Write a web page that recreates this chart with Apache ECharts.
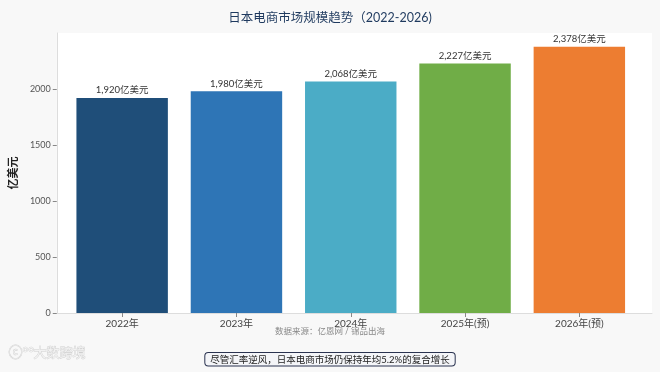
<!DOCTYPE html>
<html>
<head>
<meta charset="utf-8">
<script src="https://cdn.jsdelivr.net/npm/echarts@6/dist/echarts.min.js"></script>
<style>
html,body{margin:0;padding:0;background:#f8f8f8;}
#c{width:660px;height:372px;}
</style>
</head>
<body>
<div id="c"></div>
<script>
const categories = ['2022年', '2023年', '2024年', '2025年(预)', '2026年(预)'];
const values = [1920, 1980, 2068, 2227, 2378];
const barColors = ['#1f4e79', '#2e75b6', '#4bacc6', '#70ad47', '#ed7d31'];
const yTicks = [0, 500, 1000, 1500, 2000];
const titleText = '日本电商市场规模趋势（2022-2026)';
const sourceText = '数据来源：亿恩网 / 锦品出海';
const noteText = '尽管汇率逆风，日本电商市场仍保持年均5.2%的复合增长';
const unit = '亿美元';

const font = 'Lato, "Noto Sans CJK SC", sans-serif';
const chart = echarts.init(document.getElementById('c'), null, {renderer: 'canvas'});
const yMax = 2500;

chart.setOption({
  backgroundColor: '#f8f8f8',
  animation: false,
  title: {
    text: titleText, left: 'center', top: 7,
    textStyle: {fontFamily: font, fontSize: 12.5, fontWeight: 'normal', color: '#1f3a5f'}
  },
  grid: [
    {left: 48, right: 8, top: 33, bottom: 59, show: true, backgroundColor: '#ffffff', borderWidth: 0},
    {left: 65, right: 23.5, top: 33, bottom: 59}
  ],
  xAxis: [
    {gridIndex: 0, type: 'value', min: 0, max: 1, show: true,
     axisLine: {show: true, lineStyle: {color: '#dddddd', width: 1}}, axisTick: {show: false},
     axisLabel: {show: false}, splitLine: {show: false}},
    {gridIndex: 1, type: 'category', data: categories,
     axisLine: {show: false},
     axisTick: {show: true, alignWithLabel: true, length: 4, lineStyle: {color: '#888'}},
     axisLabel: {fontFamily: font, fontSize: 10, color: '#444', margin: 6}}
  ],
  yAxis: [
    {gridIndex: 0, type: 'value', min: 0, max: yMax,
     name: unit, nameLocation: 'middle', nameGap: 33, nameRotate: 90,
     nameTextStyle: {fontFamily: font, fontSize: 11, fontWeight: 'bold', color: '#222'},
     axisLine: {show: true, lineStyle: {color: '#dddddd'}},
     axisTick: {show: true, length: 4, lineStyle: {color: '#888'}, customValues: yTicks},
     axisLabel: {fontFamily: font, fontSize: 9, color: '#555', margin: 6, customValues: yTicks,
                 formatter: v => String(v)},
     splitLine: {show: false}},
    {gridIndex: 1, type: 'value', min: 0, max: yMax, show: false, splitLine: {show: false}}
  ],
  series: [{
    type: 'bar', xAxisIndex: 1, yAxisIndex: 1,
    barWidth: '80%',
    data: values.map((v, i) => ({value: v, itemStyle: {color: barColors[i]}})),
    label: {
      show: true, position: 'top', distance: 3,
      fontFamily: font, fontSize: 9.5, color: '#333',
      formatter: p => p.value.toLocaleString('en-US') + unit
    }
  }],
  graphic: [
    {type: 'text', left: 'center', top: 327,
     style: {text: sourceText, fontFamily: font, fontSize: 8.5, fill: '#888'}},
    {type: 'text', left: 'center', top: 352, z: 10,
     style: {text: noteText, fontFamily: font, fontSize: 9.5, fill: '#222',
             backgroundColor: '#f4f5f8', borderColor: '#2a3350', borderWidth: 1,
             borderRadius: 3, padding: [2, 5, 1, 5]}},
    {type: 'text', left: 8, top: 345,
     style: {text: 'ⓒ°°', fontFamily: font, fontSize: 14, fill: '#f2f2f2',
             stroke: '#d0d0d0', lineWidth: 0.8}},
    {type: 'text', left: 33, top: 346,
     style: {text: '大数跨境', fontFamily: font, fontSize: 13, fill: '#f2f2f2',
             stroke: '#cfcfcf', lineWidth: 0.8}}
  ]
});
</script>
</body>
</html>
